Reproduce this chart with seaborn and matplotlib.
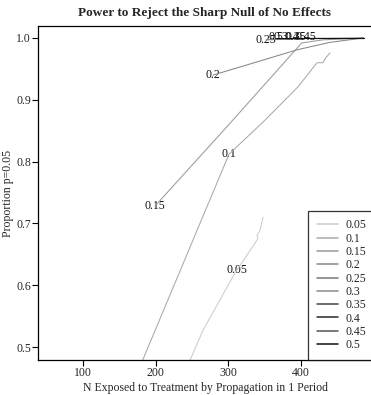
import matplotlib
matplotlib.use("Agg")
import matplotlib.pyplot as plt
import seaborn as sns
import pandas as pd

# Effect sizes and the estimated power curves (N exposed vs. proportion p<=0.05)
effects = ["0.05", "0.1", "0.15", "0.2", "0.25", "0.3", "0.35", "0.4", "0.45", "0.5"]

n_005 = [244, 265.1, 309.2, 336.7, 340.8, 339.4, 343.6, 347.7]
p_005 = [0.470, 0.527, 0.620, 0.668, 0.676, 0.680, 0.689, 0.710]

n_010 = [179, 300.9, 350.4, 395.9, 422, 430, 434, 440]
p_010 = [0.470, 0.812, 0.867, 0.921, 0.960, 0.960, 0.968, 0.976]

n_015 = [199, 300, 401, 430, 486]
p_015 = [0.728, 0.859, 0.992, 0.997, 1.0]

n_020 = [279, 330, 395, 440, 486]
p_020 = [0.940, 0.958, 0.981, 0.993, 1.0]

n_025 = [352, 400, 486]
p_025 = [0.997, 0.999, 1.0]

n_030 = [372, 420, 486]
p_030 = [1.0, 1.0, 1.0]

n_035 = [393, 430, 486]
p_035 = [1.0, 1.0, 1.0]

n_040 = [388, 430, 486]
p_040 = [1.0, 1.0, 1.0]

n_045 = [407, 440, 486]
p_045 = [1.0, 1.0, 1.0]

n_050 = [366, 420, 486]
p_050 = [1.0, 1.0, 1.0]

# Where each curve's effect-size label sits
label_n = [311.5, 300.9, 199.1, 278.9, 351.8, 372.5, 393.1, 387.6, 406.9, 365.6]
label_p = [0.625, 0.812, 0.728, 0.940, 0.997, 1.0016, 1.0016, 1.0016, 1.0016, 1.0016]

x_ticks = [100, 200, 300, 400]
y_ticks = [0.5, 0.6, 0.7, 0.8, 0.9, 1.0]

grays = ["#cccccc", "#a9a9a9", "#9a9a9a", "#888888", "#777777",
         "#8a8a8a", "#444444", "#2a2a2a", "#555555", "#111111"]

series_n = [n_005, n_010, n_015, n_020, n_025, n_030, n_035, n_040, n_045, n_050]
series_p = [p_005, p_010, p_015, p_020, p_025, p_030, p_035, p_040, p_045, p_050]

frames = []
for eff, ns, ps in zip(effects, series_n, series_p):
    frames.append(pd.DataFrame({"N": ns, "power": ps, "effect": eff}))
df = pd.concat(frames, ignore_index=True)

sns.set_style("white")
plt.rcParams["font.family"] = ["Liberation Serif", "DejaVu Serif"]

W, H = 371, 395
fig = plt.figure(figsize=(W / 100, H / 100), dpi=100)
ax_left, ax_right, ax_top, ax_bottom = 38, 380, 26, 360
ax = fig.add_axes([ax_left / W, 1 - ax_bottom / H,
                   (ax_right - ax_left) / W, (ax_bottom - ax_top) / H])

for eff, ln, lp in zip(effects, label_n, label_p):
    ax.text(ln, lp, eff, ha="center", va="center", fontsize=8.5,
            color="#111111", zorder=1)

sns.lineplot(data=df, x="N", y="power", hue="effect", hue_order=effects,
             palette=grays, sort=False, estimator=None, units="effect",
             linewidth=0.75, ax=ax, zorder=2)

ax.set_xlim(38.1, 508.7)
ax.set_ylim(0.479, 1.0194)
ax.set_xticks(x_ticks)
ax.set_xticklabels([str(t) for t in x_ticks])
ax.set_yticks(y_ticks)
ax.set_yticklabels([f"{t:.1f}" for t in y_ticks])
ax.tick_params(axis="both", which="major", direction="out", length=4,
               width=0.8, color="black", labelsize=8.5, pad=1,
               bottom=True, left=True, top=False, right=False)
for s in ax.spines.values():
    s.set_color("black")
    s.set_linewidth(0.9)
ax.set_xlabel("")
ax.set_ylabel("")

handles, labels = ax.get_legend_handles_labels()
leg = ax.legend(handles, labels, loc="lower left",
                bbox_to_anchor=((308 - ax_left) / (ax_right - ax_left), 0.0),
                frameon=True, fancybox=False, fontsize=8.5,
                handlelength=1.8, handletextpad=0.6, labelspacing=0.11,
                borderpad=0.75, borderaxespad=0.0)
leg.get_frame().set_edgecolor("black")
leg.get_frame().set_linewidth(0.9)
for h in leg.get_lines():
    h.set_linewidth(1.1)

fig.text(205 / W, 1 - 13 / H, "Power to Reject the Sharp Null of No Effects",
         ha="center", va="center", fontsize=9.5, fontweight="bold")
fig.text(205 / W, 1 - 388 / H,
         "N Exposed to Treatment by Propagation in 1 Period",
         ha="center", va="center", fontsize=8.5)
fig.text(8 / W, 1 - 193 / H, "Proportion p=0.05", rotation=90,
         ha="center", va="center", fontsize=8.5)

fig.savefig("out.png", dpi=100)
